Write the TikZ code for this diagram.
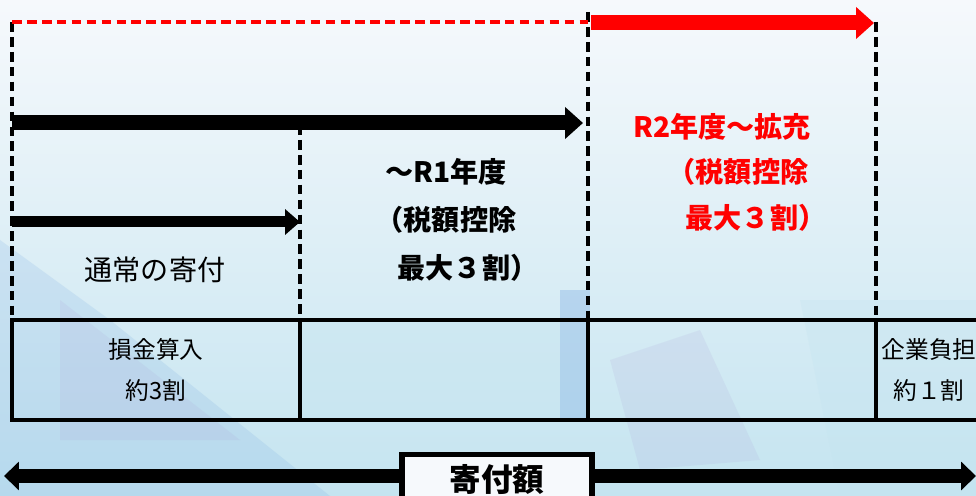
\documentclass[tikz,border=0pt]{standalone}
\usepackage{fontspec}
\setmainfont{Noto Sans CJK JP}
\usetikzlibrary{arrows.meta}
\definecolor{skyA}{RGB}{196,228,240}
\definecolor{skyB}{RGB}{120,170,225}
\definecolor{skyC}{RGB}{170,160,215}
\definecolor{paleW}{RGB}{246,249,252}
\begin{document}
\begin{tikzpicture}[x=0.02cm, y=-0.02cm,
	guide/.style={dashed, line width=1.8pt, dash pattern=on 5.5pt off 3pt},
	fatarrow/.style={line width=0.3cm, -{Triangle[length=0.36cm,width=0.62cm]}},
	slimarrow/.style={line width=0.22cm, -{Triangle[length=0.3cm,width=0.5cm]}},
	plain/.style={font=\fontsize{16}{18}\selectfont},
	heavy/.style={font=\fontsize{16}{18}\selectfont\bfseries},
	cell/.style={font=\fontsize{13.5}{16}\selectfont, align=center}
	]
	\useasboundingbox (0,0) rectangle (976,496);
	% background
	\shade[top color=paleW, bottom color=skyA] (0,0) rectangle (976,496);
	\fill[skyB, opacity=0.18] (0,240) -- (110,320) -- (330,496) -- (0,496) -- cycle;
	\fill[skyC, opacity=0.14] (60,300) -- (240,440) -- (60,440) -- cycle;
	\fill[skyB, opacity=0.35] (560,290) -- (590,290) -- (590,420) -- (560,420) -- cycle;
	\fill[skyA, opacity=0.4] (300,320) -- (560,320) -- (560,420) -- (300,420) -- cycle;
	\fill[skyC, opacity=0.15] (610,360) -- (700,330) -- (760,460) -- (640,470) -- cycle;
	\fill[skyA, opacity=0.3] (800,300) -- (976,300) -- (976,496) -- (840,496) -- cycle;

	% guide lines
	\coordinate (g0) at (12,22);
	\coordinate (g1) at (300,125);
	\coordinate (g2) at (588,12);
	\coordinate (g3) at (876,22);
	\draw[guide] (g0) -- (12,320);
	\draw[guide] (g1) -- (300,320);
	\draw[guide] (g2) -- (588,320);
	\draw[guide] (g3) -- (876,320);
	\draw[guide, red] (g0) -- (588,22);

	% arrows
	\draw[fatarrow, red] (591,23) -- (874,23);
	\draw[fatarrow] (12,123) -- (583,123);
	\draw[slimarrow] (12,222) -- (300,222);

	% labels
	\node[plain] (normal) at (155,270) {通常の寄付};
	\node[heavy] (r1a) at (446,172) {〜R1年度};
	\node[heavy] (r1b) at (446,220) {（税額控除};
	\node[heavy] (r1c) at (468,268) {最大３割）};
	\node[heavy, red] (r2a) at (722,127) {R2年度〜拡充};
	\node[heavy, red] (r2b) at (738,172) {（税額控除};
	\node[heavy, red] (r2c) at (756,218) {最大３割）};

	% table
	\draw[line width=2.4pt] (12,320) rectangle (990,420);
	\foreach \x in {300,588,876}
		\draw[line width=2pt] (\x,320) -- (\x,420);
	\node[cell] (loss) at (156,370) {損金算入\\[7pt]約3割};
	\node[cell] (burden) at (929,370) {企業負担\\[7pt]約１割};

	% donation amount
	\coordinate (dl) at (4,476);
	\coordinate (dr) at (976,476);
	\draw[line width=0.28cm, {Triangle[length=0.3cm,width=0.56cm]}-{Triangle[length=0.3cm,width=0.56cm]}] (dl) -- (dr);
	\node[draw, line width=3pt, fill=paleW, minimum width=3.8cm, minimum height=1.0cm,
		anchor=north, inner sep=2pt, font=\fontsize{18}{20}\selectfont\bfseries] (gift) at (497,452) {寄付額};
\end{tikzpicture}
\end{document}
